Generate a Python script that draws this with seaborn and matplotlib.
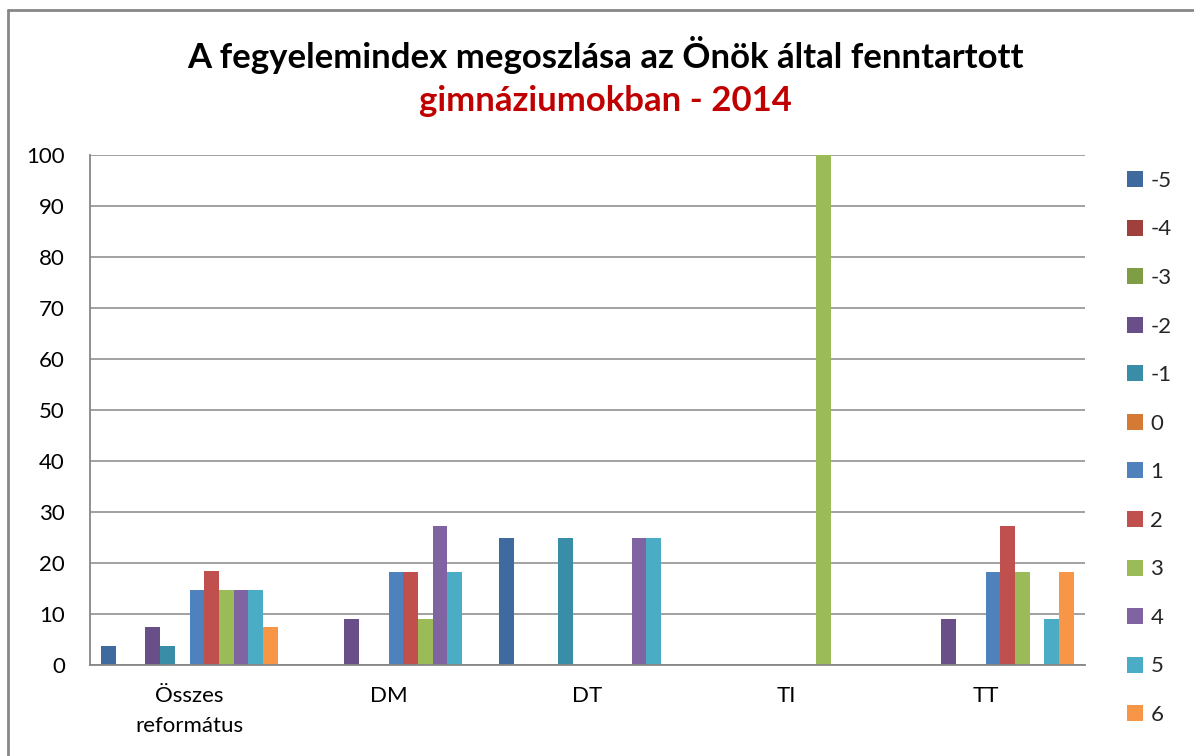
import matplotlib
matplotlib.use("Agg")
import matplotlib.pyplot as plt
from matplotlib.lines import Line2D
import seaborn as sns
import pandas as pd

sns.set_theme(style="white")
plt.rcParams["font.family"] = ["Lato", "DejaVu Sans"]

# Fenntartók (csoportok) és fegyelemindex-értékek (sorozatok)
groups = ["Összes\nreformátus", "DM", "DT", "TI", "TT"]
index_values = ["-5", "-4", "-3", "-2", "-1", "0", "1", "2", "3", "4", "5", "6"]

# Megoszlás százalékban, fenntartónként, -5 ... 6 sorrendben
share_osszes = [3.7, 0, 0, 7.4, 3.7, 0, 14.8, 18.5, 14.8, 14.8, 14.8, 7.4]
share_dm = [0, 0, 0, 9.1, 0, 0, 18.2, 18.2, 9.1, 27.3, 18.2, 0]
share_dt = [25, 0, 0, 0, 25, 0, 0, 0, 0, 25, 25, 0]
share_ti = [0, 0, 0, 0, 0, 0, 0, 0, 100, 0, 0, 0]
share_tt = [0, 0, 0, 9.1, 0, 0, 18.2, 27.3, 18.2, 0, 9.1, 18.2]

colors = ["#3E6A9E", "#A0403D", "#7F9D45", "#684F88", "#3A8DA6", "#D57A35",
          "#4F81BD", "#C0504D", "#9BBB59", "#8064A2", "#4BACC6", "#F79646"]

rows = []
for g, vals in zip(groups, [share_osszes, share_dm, share_dt, share_ti, share_tt]):
    for idx, v in zip(index_values, vals):
        rows.append({"fenntarto": g, "index": idx, "arany": v})
df = pd.DataFrame(rows)

fig = plt.figure(figsize=(11.94, 7.56), dpi=100)
ax = fig.add_axes([90 / 1194, 1 - 665 / 756, (1085 - 90) / 1194, (665 - 155) / 756])

sns.barplot(data=df, x="fenntarto", y="arany", hue="index", order=groups,
            hue_order=index_values, palette=colors, width=0.889, gap=0,
            saturation=1, linewidth=0, errorbar=None, ax=ax, legend=False)

ax.set_ylim(0, 100)
ax.set_yticks(range(0, 101, 10))
ax.set_xlim(-0.5, 4.5)
ax.set_xlabel("")
ax.set_ylabel("")
grid_color = "#878787"
ax.yaxis.grid(True, color=grid_color, linewidth=1.1)
ax.set_axisbelow(True)
for side in ["top", "right"]:
    ax.spines[side].set_visible(False)
for side in ["left", "bottom"]:
    ax.spines[side].set_color(grid_color)
    ax.spines[side].set_linewidth(1.3)
ax.tick_params(axis="y", length=0, pad=18, labelsize=16, labelcolor="black")
ax.tick_params(axis="x", length=0, pad=15, labelsize=16, labelcolor="black")
for lbl in ax.get_xticklabels():
    lbl.set_linespacing(1.65)

# Jelmagyarázat
handles = [Line2D([0], [0], marker="s", linestyle="none", markersize=11,
                  markerfacecolor=c, markeredgewidth=0) for c in colors]
fig.legend(handles, index_values, loc="upper left",
           bbox_to_anchor=(1117 / 1194, 1 - 162 / 756), frameon=False,
           fontsize=16, handlelength=0.8, handletextpad=0.3,
           labelspacing=1.285, borderaxespad=0)

# Cím két sorban
fig.text(605 / 1194, 1 - 55 / 756, "A fegyelemindex megoszlása az Önök által fenntartott",
         ha="center", va="center", fontsize=25, fontweight="bold", color="black")
fig.text(605 / 1194, 1 - 101 / 756, "gimnáziumokban - 2014",
         ha="center", va="center", fontsize=25, fontweight="bold", color="#C00000")

# Diagramkeret
fig.add_artist(Line2D([7.5 / 1194, 1], [1 - 9.5 / 756, 1 - 9.5 / 756],
                      transform=fig.transFigure, color=grid_color, linewidth=2))
fig.add_artist(Line2D([7.5 / 1194, 7.5 / 1194], [0, 1 - 9.5 / 756],
                      transform=fig.transFigure, color=grid_color, linewidth=2))

fig.savefig("out.png", dpi=100, facecolor="white")
